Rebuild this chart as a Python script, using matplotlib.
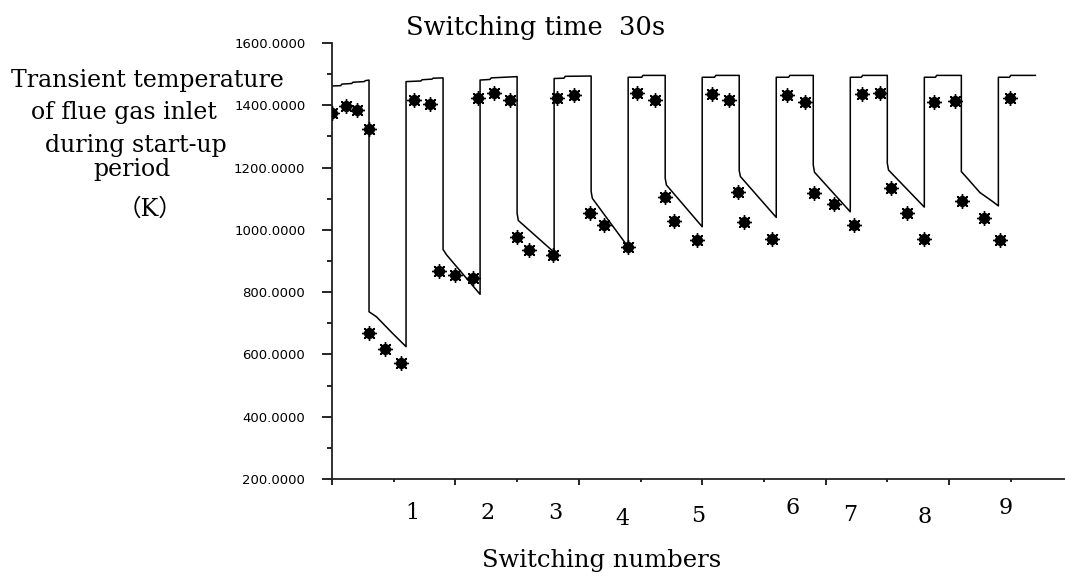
import matplotlib
matplotlib.use("Agg")
import matplotlib.pyplot as plt
from matplotlib.ticker import MultipleLocator, FormatStrFormatter

# ---------------- data ----------------
# simulated transient temperature (switching every 30 s)
line_t = [0, 7, 8, 16, 17, 26, 27, 30,
          30, 36, 49, 60,
          60, 72, 73, 81, 82, 90,
          90, 93, 120,
          120, 128, 129, 150,
          150, 151, 180,
          180, 188, 189, 210,
          210, 211, 240,
          240, 251, 252, 270,
          270, 271, 300,
          300, 310, 311, 330,
          330, 331, 360,
          360, 370, 371, 390,
          390, 391, 420,
          420, 429, 430, 450,
          450, 451, 480,
          480, 489, 490, 510,
          510, 515, 525, 535, 540,
          540, 549, 550, 570]
line_T = [1462, 1463, 1468, 1470, 1474, 1476, 1479, 1481,
          737, 721, 668, 625,
          1476, 1478, 1482, 1484, 1487, 1488,
          937, 919, 793,
          1481, 1483, 1488, 1492,
          1053, 1030, 928,
          1486, 1487, 1493, 1494,
          1123, 1101, 945,
          1490, 1490, 1496, 1496,
          1166, 1144, 1010,
          1490, 1490, 1496, 1496,
          1190, 1171, 1040,
          1490, 1490, 1496, 1496,
          1208, 1185, 1058,
          1490, 1490, 1496, 1496,
          1214, 1192, 1073,
          1490, 1490, 1496, 1496,
          1187, 1165, 1120, 1092, 1077,
          1490, 1490, 1496, 1496]

# measured temperature points
meas_t = [0, 11, 20.5, 30,
          30, 43, 56,
          66.5, 79.5,
          87, 100, 114,
          118.6, 131, 144,
          150, 160, 179,
          182, 196,
          209, 220.5, 240,
          247, 262,
          270, 277, 296,
          308, 321.5,
          328.7, 334, 356.5,
          368.6, 383.5,
          391, 407, 423,
          429.5, 443.8,
          453, 466, 480,
          487.6, 505,
          510.5, 528, 541,
          549.7]
meas_T = [1374, 1398, 1385, 1324,
          668, 617, 572,
          1417, 1404,
          869, 855, 845,
          1422, 1438, 1417,
          978, 935, 919,
          1422, 1433,
          1053, 1016, 944,
          1438, 1417,
          1107, 1030, 969,
          1436, 1417,
          1120, 1026, 970,
          1433, 1412,
          1118, 1083, 1016,
          1436, 1438,
          1133, 1055, 970,
          1412, 1415,
          1094, 1037, 968,
          1422]

switch_labels = ['1', '2', '3', '4', '5', '6', '7', '8', '9']

title_text = "Switching time  30s"
xlabel_text = "Switching numbers"
ylabel_lines = ["Transient temperature", "of flue gas inlet",
                "during start-up", "period", "（K）"]

# ---------------- layout ----------------
W, H = 1065, 577
fig = plt.figure(figsize=(W / 100, H / 100), dpi=100)
ax = fig.add_axes([332 / W, 1 - 479 / H, (W - 332) / W, (479 - 43) / H])

serif = ['DejaVu Serif', 'Noto Sans CJK SC']

ax.plot(line_t, line_T, color='black', lw=1.1, zorder=2)
ax.plot(meas_t, meas_T, linestyle='none', marker='o', ms=7,
        color='black', zorder=3)
ax.plot(meas_t, meas_T, linestyle='none', marker=(8, 2, 0), ms=10.5,
        mew=1.0, color='black', zorder=3)

ax.set_xlim(0, 594)
ax.set_ylim(200, 1600)
ax.yaxis.set_major_locator(MultipleLocator(200))
ax.yaxis.set_minor_locator(MultipleLocator(100))
ax.yaxis.set_major_formatter(FormatStrFormatter('%.4f'))
ax.xaxis.set_major_locator(MultipleLocator(100))
ax.xaxis.set_minor_locator(MultipleLocator(50))
ax.set_xticklabels([])
ax.tick_params(axis='x', which='both', labelbottom=False)

for s in ['top', 'right']:
    ax.spines[s].set_visible(False)
for s in ['left', 'bottom']:
    ax.spines[s].set_linewidth(1.3)
    ax.spines[s].set_color('#222222')

ax.tick_params(axis='y', which='major', direction='out', length=7.2,
               width=1.2, pad=12, labelsize=9.5, colors='black')
ax.tick_params(axis='y', which='minor', direction='out', length=3.6,
               width=1.2)
ax.tick_params(axis='x', which='major', direction='out', length=4.3,
               width=1.2)
ax.tick_params(axis='x', which='minor', direction='out', length=2.2,
               width=1.2)
for lab in ax.get_yticklabels():
    lab.set_fontfamily('DejaVu Sans')

# switching-number labels placed near each cycle end (pixel layout)
label_px = [(412, 513), (488, 513), (555, 513), (622, 519), (698, 516),
            (793, 508), (850, 515), (925, 517), (1006, 508)]
for lab, (px, py) in zip(switch_labels, label_px):
    fig.text(px / W, 1 - py / H, lab, ha='center', va='center',
             fontsize=16, family=serif)

fig.text(536 / W, 1 - 35 / H, title_text, ha='center', va='baseline',
         fontsize=18.5, family=serif)
fig.text(602 / W, 1 - 567 / H, xlabel_text, ha='center', va='baseline',
         fontsize=17.5, family=serif)

ylab_pos = [(147, 87), (124, 119), (136, 152), (132, 176), (150, 216)]
for txt, (px, py) in zip(ylabel_lines, ylab_pos):
    fig.text(px / W, 1 - py / H, txt, ha='center', va='baseline',
             fontsize=17, family=serif)

fig.savefig('out.png', dpi=100, facecolor='white')
